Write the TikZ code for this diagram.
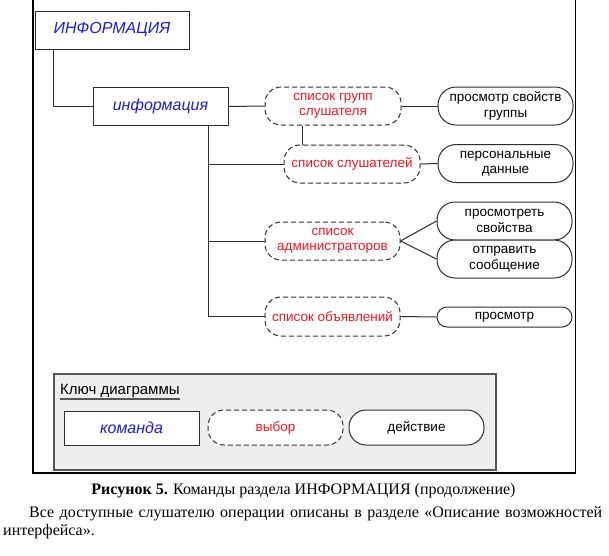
\documentclass[tikz,border=0pt]{standalone}
\usepackage{fontspec}
\setmainfont{Liberation Serif}
\newfontfamily\arial{Liberation Sans}
\usetikzlibrary{calc}
\definecolor{cmdblue}{RGB}{30,30,210}
\definecolor{chred}{RGB}{235,25,35}
\definecolor{ln}{RGB}{45,45,45}
\definecolor{keyfill}{RGB}{238,238,238}
\definecolor{keyline}{RGB}{85,85,85}
\begin{document}
\begin{tikzpicture}[x=1pt,y=-1pt,
  cmdbox/.style={draw=ln,line width=1pt,fill=white,inner sep=0pt,
    font=\arial\itshape\fontsize{16}{18}\selectfont,text=cmdblue,
    minimum width=135pt,minimum height=38pt},
  choicebox/.style={draw=ln,line width=1pt,dash pattern=on 5pt off 3pt,
    rounded corners=16pt,fill=white,inner sep=0pt,align=center,
    font=\arial\fontsize{13.5}{15.5}\selectfont,text=chred,
    minimum width=135pt,minimum height=38pt},
  actbox/.style={draw=ln,line width=1pt,rounded corners=18pt,fill=white,
    inner sep=0pt,align=center,font=\arial\fontsize{13.5}{15.5}\selectfont,
    text=black,minimum width=135pt,minimum height=38pt},
  conn/.style={draw=ln,line width=1pt}]
\useasboundingbox (0,0) rectangle (609,555);
% outer frame
\draw[line width=1.3pt] (33,0) -- (33,473) -- (575.5,473) -- (575.5,0);
% nodes
\node[cmdbox,minimum width=154pt] (INF) at (112,30) {ИНФОРМАЦИЯ};
\node[cmdbox] (inf) at (160.5,106.5) {информация};
\node[choicebox,minimum width=136pt] (g1) at (333,106) {список групп\\слушателя};
\node[actbox] (a1) at (505.5,106) {просмотр свойств\\группы};
\node[choicebox,minimum width=136pt] (g2) at (352,164) {список слушателей};
\node[actbox] (a2) at (505.5,163.5) {персональные\\данные};
\node[choicebox] (g3) at (332.5,241) {список\\администраторов};
\node[actbox] (a3) at (504.5,221) {просмотреть\\свойства};
\node[actbox] (a4) at (504.5,259) {отправить\\сообщение};
\node[choicebox,minimum height=39pt] (g4) at (332.5,316.5) {список объявлений};
\node[actbox,minimum height=20pt,rounded corners=10pt] (a5) at (504.5,317) {просмотр};
% connectors
\draw[conn] ([xshift=19pt]INF.south west) |- (inf.west);
\draw[conn] (inf.east) -- (g1.west);
\coordinate (t) at ([xshift=-20pt]inf.south east);
\draw[conn] (t) |- (g4.west);
\draw[conn] (t |- g2.west) -- (g2.west);
\draw[conn] (t |- g3.west) -- (g3.west);
\coordinate (gs) at ([xshift=38pt]g1.south west);
\draw[conn] (gs) -- (gs |- g2.north);
\draw[conn] (g1.east) -- (a1.west);
\draw[conn] (g2.east) -- (a2.west);
\draw[conn] (g3.east) -- (a3.west);
\draw[conn] (g3.east) -- (a4.west);
\draw[conn] (g4.east) -- (a5.west);
% key
\draw[draw=keyline,fill=keyfill,line width=1.4pt] (54,374) rectangle (496,470);
\node[anchor=base west,inner sep=0pt,font=\arial\fontsize{15}{17}\selectfont] (keyt) at (60,394) {Ключ диаграммы};
\draw[keyline,line width=2.5pt] ([yshift=-5pt]keyt.base west) -- ([yshift=-5pt]keyt.base east);
\node[cmdbox,minimum height=34pt] (kc) at (131.5,428) {команда};
\node[choicebox,minimum height=35pt] (kv) at (275.5,427.5) {выбор};
\node[actbox,minimum height=35pt,rounded corners=17pt] (ka) at (416.5,427.5) {действие};
% caption and text
\node[anchor=base,inner sep=0pt,font=\fontsize{16}{18}\selectfont] (cap) at (303.5,494)
  {\textbf{Рисунок 5.} Команды раздела ИНФОРМАЦИЯ (продолжение)};
\node[anchor=base west,inner sep=0pt,font=\fontsize{16}{18}\selectfont] (body1) at (29,517)
  {\makebox[573pt][s]{Все доступные слушателю операции описаны в разделе «Описание возможностей}};
\node[anchor=base west,inner sep=0pt,font=\fontsize{16}{18}\selectfont] (body2) at (3,535)
  {интерфейса».};
\end{tikzpicture}
\end{document}
